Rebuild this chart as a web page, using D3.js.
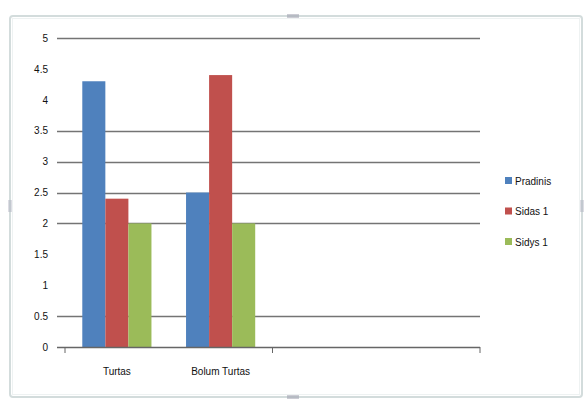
<!DOCTYPE html>
<html>
<head>
<meta charset="utf-8">
<script src="https://cdn.jsdelivr.net/npm/d3@7"></script>
<style>
  body { margin: 0; background: #fff; }
  text { font-family: "Liberation Sans", Arial, sans-serif; font-size: 10px; fill: #111; }
</style>
</head>
<body>
<script>
// data
const categories = ["Turtas", "Bolum Turtas", "", ""];
const seriesNames = ["Pradinis", "Sidas 1", "Sidys 1"];
const pradinis = [4.3, 2.5];
const sidas1 = [2.4, 4.4];
const sidys1 = [2, 2];
const yTicks = [0, 0.5, 1, 1.5, 2, 2.5, 3, 3.5, 4, 4.5, 5];
const gridTicks = [0.5, 2, 2.5, 3, 3.5, 5];

const colors = ["#4f81bd", "#c0504d", "#9bbb59"];
const W = 587, H = 403;

const svg = d3.select("body").append("svg").attr("width", W).attr("height", H);

// chart frame (selected excel chart)
svg.append("rect")
  .attr("x", 10).attr("y", 16).attr("width", 572).attr("height", 381)
  .attr("rx", 3)
  .attr("fill", "#fff").attr("stroke", "#d3dcdc").attr("stroke-width", 2);
svg.append("rect")
  .attr("x", 12.5).attr("y", 18.5).attr("width", 567).attr("height", 376)
  .attr("fill", "none").attr("stroke", "#eef2f2").attr("stroke-width", 1);
// handles
[[293, 16], [293, 397]].forEach(function (p) {
  svg.append("rect").attr("x", p[0] - 6).attr("y", p[1] - 2).attr("width", 12).attr("height", 4)
    .attr("fill", "#99a").attr("opacity", 0.5);
});
[[10, 206], [582, 206]].forEach(function (p) {
  svg.append("rect").attr("x", p[0] - 2).attr("y", p[1] - 6).attr("width", 4).attr("height", 12)
    .attr("fill", "#aab").attr("opacity", 0.4);
});

const x = d3.scaleBand().domain(d3.range(categories.length)).range([65, 480]).padding(0);
const y = d3.scaleLinear().domain([0, 5]).range([347, 38]);

// gridlines
svg.append("g").selectAll("line").data(gridTicks).join("line")
  .attr("x1", 57).attr("x2", 480)
  .attr("y1", d => Math.round(y(d)) + 0.5).attr("y2", d => Math.round(y(d)) + 0.5)
  .attr("stroke", "#747474").attr("stroke-width", 1.4);

// y labels
const yAxis = d3.axisLeft(y).tickValues(yTicks).tickSize(0).tickPadding(17)
  .tickFormat(d3.format("~g"));
const ya = svg.append("g").attr("transform", "translate(65,0)").call(yAxis);
ya.select(".domain").remove();
ya.selectAll("text").style("font-size", "10px").attr("fill", "#111");

// bars
const series = [pradinis, sidas1, sidys1];
const gap = 1.5;
const bw = x.bandwidth() / (series.length + gap);
series.forEach(function (vals, si) {
  svg.append("g").selectAll("rect").data(vals).join("rect")
    .attr("x", (d, i) => x(i) + bw * gap / 2 + si * bw)
    .attr("width", bw)
    .attr("y", d => y(d))
    .attr("height", d => y(0) - y(d))
    .attr("fill", colors[si]);
});

// x axis line and ticks every two categories
svg.append("line").attr("x1", 57).attr("x2", 480).attr("y1", 347.5).attr("y2", 347.5)
  .attr("stroke", "#666").attr("stroke-width", 1.4);
[0, 2, 4].forEach(function (k) {
  const xx = k < categories.length ? x(k) : x.range()[1];
  svg.append("line").attr("x1", xx).attr("x2", xx).attr("y1", 347).attr("y2", 353)
    .attr("stroke", "#666");
});
svg.append("g").selectAll("text").data(categories).join("text")
  .attr("x", (d, i) => x(i) + x.bandwidth() / 2)
  .attr("y", 375)
  .attr("text-anchor", "middle")
  .text(d => d);

// legend
const lg = svg.append("g").attr("transform", "translate(505,181)");
seriesNames.forEach(function (n, i) {
  lg.append("rect").attr("x", 0).attr("y", i * 30.5 - 4).attr("width", 7).attr("height", 7)
    .attr("fill", colors[i]);
  lg.append("text").attr("x", 10).attr("y", i * 30.5 + 3.5).text(n);
});
</script>
</body>
</html>
